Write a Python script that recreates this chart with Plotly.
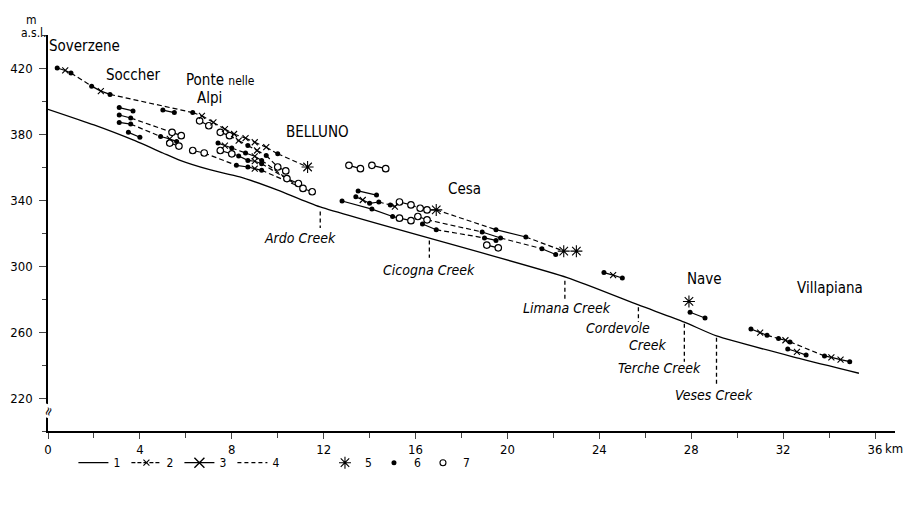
import plotly.graph_objects as go

# ---------------- data ----------------
# 1: present thalweg of the Piave river (km from Soverzene, m a.s.l.)
thalweg_km = [0, 2, 3.7, 5.0, 5.75, 7.0, 8.35, 10.0, 11.85, 22.6, 25.7, 27.7, 29.1, 32.7, 35.3]
thalweg_m = [395, 385.5, 376.4, 368.5, 364, 358.5, 354, 346, 335.8, 293, 276.4, 266, 257.6, 244, 235]

# terrace rows: (km, m, mark)  mark: o = dot (6), c = open circle (7), x = cross (2), a = asterisk (5)
# link strings: s = solid segment, d = dashed correlation (4)
row_t1 = [(0.4, 420, "o"), (0.75, 418.5, "x"), (1.0, 417, "o"), (1.9, 409, "o"), (2.3, 406, "x"),
          (2.7, 404, "o"), (6.3, 393, "o"), (6.7, 391, "x"), (7.2, 387, "x"), (7.7, 383, "x"),
          (8.1, 380, "x"), (8.6, 377.5, "x"), (9.0, 375, "x"), (9.5, 372, "x"), (10.0, 368, "o"),
          (11.3, 360, "a")]
link_t1 = "ssdssdddddddddd"
row_pa = [(5.0, 394.5, "o"), (5.5, 393, "o")]
link_pa = "s"
row_s1 = [(3.1, 396, "o"), (3.7, 394, "o")]
link_s1 = "s"
row_s2 = [(3.1, 391.5, "o"), (3.6, 389.7, "o"), (5.4, 381, "c"), (5.8, 379, "c")]
link_s2 = "sds"
row_s3 = [(3.1, 387, "o"), (3.6, 386, "o"), (4.9, 378.5, "o"), (5.3, 377, "x"), (5.6, 375.5, "o")]
link_s3 = "sdss"
row_s4 = [(5.3, 374.5, "c"), (5.7, 372.7, "c")]
link_s4 = "s"
row_s5 = [(3.5, 381, "o"), (4.0, 378, "o")]
link_s5 = "s"
row_b0 = [(6.6, 388, "c"), (7.0, 385, "c")]
link_b0 = "s"
row_b1 = [(7.5, 381, "c"), (7.9, 379, "c"), (8.3, 376, "x"), (8.7, 373, "o"), (9.1, 370, "x"),
          (9.5, 367, "o"), (10.0, 360, "c"), (10.35, 357.6, "c")]
link_b1 = "sddddds"
row_b2 = [(7.4, 374.5, "o"), (7.7, 373, "x"), (8.0, 371.5, "o"), (8.6, 368.5, "o"), (9.0, 366.5, "x"),
          (9.3, 364, "o"), (10.4, 353, "c"), (10.9, 350, "c")]
link_b2 = "ssdssds"
row_b3 = [(7.5, 370, "c"), (8.0, 368, "c"), (8.3, 366.7, "o"), (8.7, 364, "o"), (9.0, 363.5, "x"),
          (9.3, 362, "o"), (11.1, 347, "c"), (11.5, 345, "c")]
link_b3 = "sdsssds"
row_b4 = [(6.3, 370, "c"), (6.8, 368.5, "c"), (8.2, 361, "o"), (8.7, 360, "o"), (9.0, 359, "x"),
          (9.3, 358, "o"), (10.8, 349, "")]
link_b4 = "sdsssd"
row_c0 = [(13.1, 361, "c"), (13.6, 359, "c")]
link_c0 = "s"
row_c0b = [(14.1, 361, "c"), (14.7, 359, "c")]
link_c0b = "s"
row_c1 = [(13.5, 345.5, "o"), (14.3, 343, "o")]
link_c1 = "s"
row_c2 = [(13.4, 342, "o"), (13.7, 340, "x"), (14.0, 338, "o"), (14.4, 338.8, "o"), (14.9, 337, "o"),
          (15.1, 336, "x"), (15.3, 338.8, "c"), (15.8, 337, "c"), (16.2, 335, "c"), (16.5, 334, "c"),
          (16.9, 334, "a"), (19.5, 322, "o"), (20.8, 317.6, "o"), (22.45, 309, "a")]
link_c2 = "sssdsssdssdsd"
row_c3 = [(12.8, 339.4, "o"), (14.1, 334.5, "o"), (15.0, 330, "o"), (15.3, 329, "c"), (15.8, 327.5, "c")]
link_c3 = "ssds"
row_c4 = [(16.1, 330, "c"), (16.5, 328, "c"), (18.9, 320.6, "o"), (19.7, 317, "o"),
          (21.5, 310.5, "o"), (22.1, 307, "o")]
link_c4 = "sdsds"
row_c5 = [(16.3, 325.5, "o"), (16.9, 322, "o"), (19.0, 317, "o"), (19.5, 315.5, "o")]
link_c5 = "sds"
row_c6 = [(19.1, 312.7, "c"), (19.6, 311, "c")]
link_c6 = "s"
row_c7 = [(23.0, 309, "a")]
link_c7 = ""
row_l1 = [(24.2, 296, "o"), (24.6, 294.5, "x"), (25.0, 292.7, "o")]
link_l1 = "ss"
row_n0 = [(27.9, 278.5, "a")]
link_n0 = ""
row_n1 = [(27.95, 272, "o"), (28.6, 268.5, "o")]
link_n1 = "s"
row_v1 = [(30.6, 261.8, "o"), (31.0, 259.6, "x"), (31.3, 258, "o"), (31.8, 256, "o"), (32.1, 255, "x"),
          (32.3, 254, "o"), (33.8, 245.5, "o"), (34.1, 244.6, "x"), (34.5, 243.3, "x"), (34.9, 242, "o")]
link_v1 = "ssdssdsss"
row_v2 = [(32.2, 249.7, "o"), (32.6, 248, "x"), (33.0, 246, "o")]
link_v2 = "ss"

# tributary creeks
creek_km = [11.85, 16.6, 22.5, 25.7, 27.7, 29.1]
creek_top = [333, 315.5, 291, 275, 265, 256.5]
creek_bottom = [323, 305, 279, 266, 242, 228.5]
creek_labels = ["Ardo Creek", "Cicogna Creek", "Limana Creek", "Cordevole", "Creek", "Terche Creek", "Veses Creek"]
creek_label_km = [10.95, 16.6, 22.6, 24.8, 26.1, 26.6, 29.0]
creek_label_m = [317, 297.6, 274.5, 262.4, 252, 238, 222]

# localities
place_labels = ["Soverzene", "Soccher", "Ponte <span style='font-size:12px'>nelle</span>", "Alpi",
                "BELLUNO", "Cesa", "Nave", "Villapiana"]
place_km = [1.6, 3.7, 7.5, 7.05, 11.75, 18.15, 28.56, 34.05]
place_m = [433.5, 415.5, 412.7, 401.8, 381, 346.7, 292, 286.5]

x_ticks = [0, 4, 8, 12, 16, 20, 24, 28, 32, 36]
y_ticks = [220, 260, 300, 340, 380, 420]
legend_names = ["1", "2", "3", "4", "5", "6", "7"]

# ---------------- figure ----------------
FONT = "DejaVu Sans Condensed, Liberation Sans Narrow, Arial Narrow, sans-serif"
rows = [(row_t1, link_t1), (row_pa, link_pa), (row_s1, link_s1), (row_s2, link_s2), (row_s3, link_s3),
        (row_s4, link_s4), (row_s5, link_s5), (row_b0, link_b0), (row_b1, link_b1), (row_b2, link_b2),
        (row_b3, link_b3), (row_b4, link_b4), (row_c0, link_c0), (row_c0b, link_c0b), (row_c1, link_c1),
        (row_c2, link_c2), (row_c3, link_c3), (row_c4, link_c4), (row_c5, link_c5), (row_c6, link_c6),
        (row_c7, link_c7), (row_l1, link_l1), (row_n0, link_n0), (row_n1, link_n1), (row_v1, link_v1),
        (row_v2, link_v2)]

fig = go.Figure()

# thalweg
fig.add_trace(go.Scatter(x=thalweg_km, y=thalweg_m, mode="lines", line_shape="spline",
                         line=dict(color="black", width=1.3, smoothing=0.6), showlegend=False, hoverinfo="skip"))

# creek verticals
cx, cy = [], []
for k, t, b in zip(creek_km, creek_top, creek_bottom):
    cx += [k, k, None]
    cy += [t, b, None]
fig.add_trace(go.Scatter(x=cx, y=cy, mode="lines", line=dict(color="black", width=1.3, dash="4px,3px"),
                         showlegend=False, hoverinfo="skip"))

# terrace links
sx, sy, dx, dy = [], [], [], []
for pts, links in rows:
    for i, st in enumerate(links):
        a, b = pts[i], pts[i + 1]
        if st == "s":
            sx += [a[0], b[0], None]
            sy += [a[1], b[1], None]
        else:
            dx += [a[0], b[0], None]
            dy += [a[1], b[1], None]
fig.add_trace(go.Scatter(x=sx, y=sy, mode="lines", line=dict(color="black", width=1.2),
                         showlegend=False, hoverinfo="skip"))
fig.add_trace(go.Scatter(x=dx, y=dy, mode="lines", line=dict(color="black", width=1.2, dash="5px,3px"),
                         showlegend=False, hoverinfo="skip"))

marker_styles = {
    "o": dict(symbol="circle", size=5, color="black", line=dict(width=0)),
    "c": dict(symbol="circle", size=6.5, color="white", line=dict(color="black", width=1.2)),
    "x": dict(symbol="x-thin-open", size=6, color="black", line=dict(color="black", width=1.1)),
    "a": dict(symbol="asterisk-open", size=10, color="black", line=dict(color="black", width=1.1)),
}
for mk, style in marker_styles.items():
    xs = [p[0] for pts, _ in rows for p in pts if p[2] == mk]
    ys = [p[1] for pts, _ in rows for p in pts if p[2] == mk]
    fig.add_trace(go.Scatter(x=xs, y=ys, mode="markers", marker=style, showlegend=False, hoverinfo="skip"))

# legend entries (1-4 line types in the first legend, 5-7 symbols in the second)
leg_specs = [
    dict(mode="lines", line=dict(color="black", width=1.2)),
    dict(mode="lines+markers", line=dict(color="black", width=1.2, dash="4px,2px"),
         marker=dict(symbol="x-thin-open", size=6, color="black", line=dict(color="black", width=1.1))),
    dict(mode="lines+markers", line=dict(color="black", width=1.2),
         marker=dict(symbol="x-thin-open", size=10, color="black", line=dict(color="black", width=1.4))),
    dict(mode="lines", line=dict(color="black", width=1.2, dash="4px,3px")),
    dict(mode="markers", marker=dict(symbol="asterisk-open", size=10, color="black",
                                     line=dict(color="black", width=1.1))),
    dict(mode="markers", marker=dict(symbol="circle", size=5, color="black")),
    dict(mode="markers", marker=dict(symbol="circle", size=6, color="white", line=dict(color="black", width=1.1))),
]
for i, (name, spec) in enumerate(zip(legend_names, leg_specs)):
    fig.add_trace(go.Scatter(x=[None], y=[None], name=name, showlegend=True,
                             legend="legend" if i < 4 else "legend2", **spec))

annotations = []
for t, k, m in zip(place_labels, place_km, place_m):
    annotations.append(dict(x=k, y=m, xref="x", yref="y", text=t, showarrow=False,
                            font=dict(size=15, family=FONT, color="black")))
for t, k, m in zip(creek_labels, creek_label_km, creek_label_m):
    annotations.append(dict(x=k, y=m, xref="x", yref="y", text="<i>" + t + "</i>", showarrow=False,
                            font=dict(size=14, family=FONT, color="black")))
annotations += [
    dict(x=-0.028, y=1.06, xref="paper", yref="paper", text="m", showarrow=False,
         font=dict(size=12, family=FONT, color="black")),
    dict(x=-0.034, y=1.028, xref="paper", yref="paper", text="a.s.l.", showarrow=False,
         font=dict(size=12, family=FONT, color="black")),
    dict(x=1.0106, y=-0.066, xref="paper", yref="paper", text="km", showarrow=False, xanchor="right",
         borderpad=0, font=dict(size=13, family=FONT, color="black")),
    dict(x=0, y=212, xref="x", yref="y", text="≈", showarrow=False, textangle=-70,
         bgcolor="white", font=dict(size=13, family=FONT, color="black")),
]

leg_common = dict(orientation="h", y=-0.08, xanchor="left", yanchor="middle",
                  font=dict(size=12, family=FONT, color="black"), itemwidth=30,
                  entrywidthmode="pixels", bgcolor="rgba(0,0,0,0)")

# the page body adds an 8px offset on every side, so the figure is sized to fit inside the window
fig.update_layout(
    width=898, height=489,
    margin=dict(l=40, r=11, t=27, b=66, autoexpand=False),
    paper_bgcolor="white", plot_bgcolor="white",
    font=dict(family=FONT, color="black", size=13),
    annotations=annotations,
    legend=dict(x=0.030, entrywidth=8, **leg_common),
    legend2=dict(x=0.327, entrywidth=4, **leg_common),
)
fig.update_xaxes(range=[0, 36.87], tickvals=x_ticks, ticks="outside", ticklen=6, tickwidth=1.2,
                 automargin=False,
                 showline=True, linecolor="black", linewidth=1.5, showgrid=False, zeroline=False,
                 tickfont=dict(size=13), minor=dict(dtick=2, ticks="outside", ticklen=5, tickwidth=1.2,
                                                   showgrid=False))
fig.update_yaxes(range=[200, 440], tickvals=y_ticks, ticks="outside", ticklen=7, tickwidth=1.2,
                 ticklabelstandoff=4, automargin=False,
                 showline=True, linecolor="black", linewidth=1.5, showgrid=False, zeroline=False,
                 tickfont=dict(size=13), minor=dict(dtick=20, tick0=200, ticks="outside", ticklen=4,
                                                   tickwidth=1.2, showgrid=False))

fig.write_html("out.html")
